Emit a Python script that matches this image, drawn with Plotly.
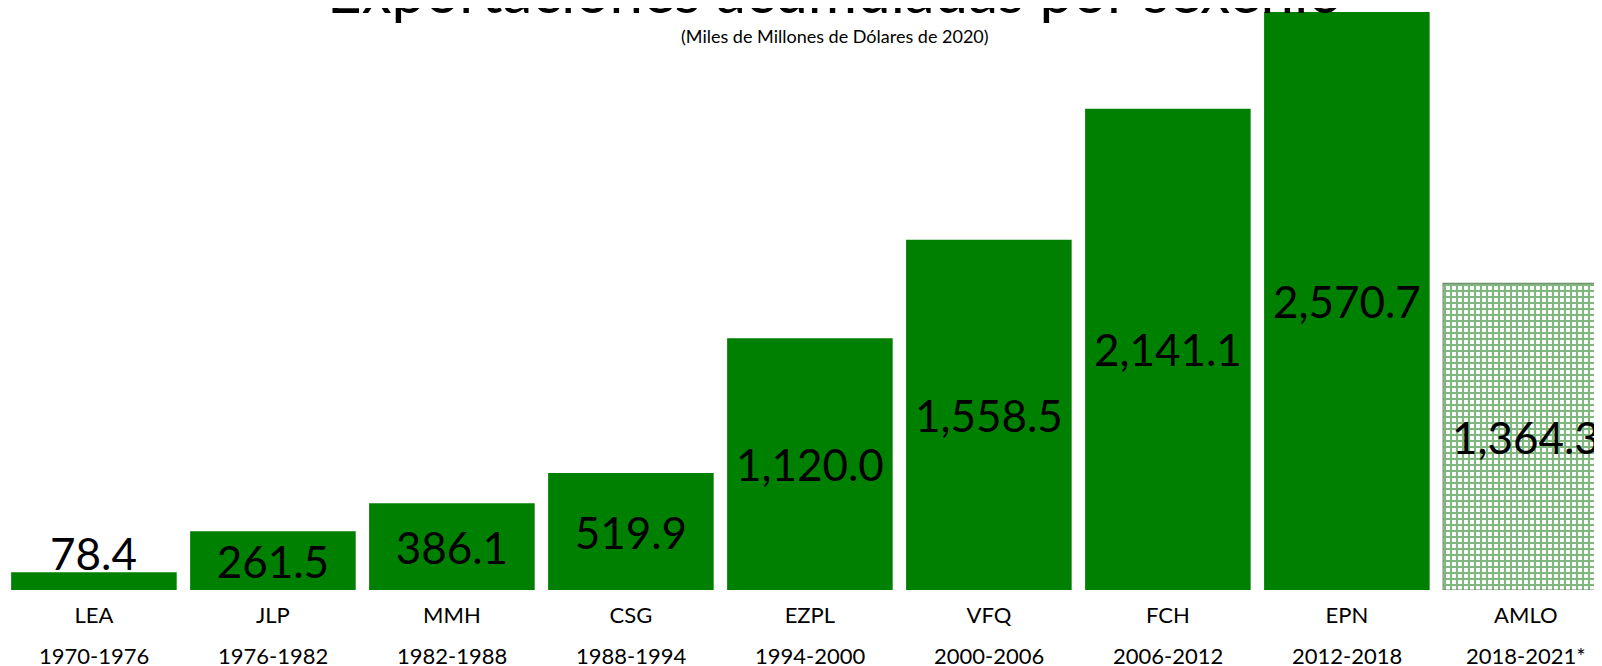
import plotly.graph_objects as go

nombres = ['LEA', 'JLP', 'MMH', 'CSG', 'EZPL', 'VFQ', 'FCH', 'EPN', 'AMLO']
periodos = ['1970-1976', '1976-1982', '1982-1988', '1988-1994', '1994-2000',
            '2000-2006', '2006-2012', '2012-2018', '2018-2021*']
exportaciones = [78.4, 261.5, 386.1, 519.9, 1120.0, 1558.5, 2141.1, 2570.7, 1364.3]

verde = '#008000'
fuente = 'Lato'

n = len(nombres)
etiquetas = [f'{v:,.1f}' for v in exportaciones]
# la primera barra es muy baja: su etiqueta va encima (anotacion aparte)
texto_barras = [''] + etiquetas[1:]
patron = [''] * (n - 1) + ['+']
borde = [0] * (n - 1) + [1.2]

fig = go.Figure()
fig.add_trace(go.Bar(
    x=nombres,
    y=exportaciones,
    marker=dict(color=verde,
                line=dict(color='#6f8f6f', width=borde),
                pattern=dict(shape=patron, fgcolor='#007000', bgcolor='white',
                             size=6, solidity=0.6)),
    text=texto_barras,
    textposition='inside',
    insidetextanchor='middle',
    textangle=0,
    textfont=dict(family=fuente, size=44, color='black'),
    cliponaxis=False,
    showlegend=False,
))

fig.add_annotation(x=nombres[0], y=exportaciones[0], xref='x', yref='y',
                   text=etiquetas[0], showarrow=False, yanchor='bottom',
                   yshift=-9, font=dict(family=fuente, size=44, color='black'))

# segunda linea de etiquetas: periodos
for nom, per in zip(nombres, periodos):
    fig.add_annotation(x=nom, y=0, xref='x', yref='paper', text=per,
                       showarrow=False, yanchor='middle', yshift=-65,
                       font=dict(family=fuente, size=22, color='black'))

fig.add_annotation(x=0.516, y=1, xref='paper', yref='paper',
                   text='Exportaciones acumuladas por sexenio',
                   showarrow=False, yanchor='middle', yshift=22,
                   font=dict(family=fuente, size=60, color='black'))
fig.add_annotation(x=0.516, y=1, xref='paper', yref='paper',
                   text='(Miles de Millones de Dólares de 2020)',
                   showarrow=False, yanchor='middle', yshift=-24,
                   font=dict(family=fuente, size=18, color='black'))

fig.update_layout(
    width=1602, height=666,
    margin=dict(l=0, r=0, t=4, b=84),
    paper_bgcolor='white', plot_bgcolor='white',
    bargap=0.075,
    uniformtext=dict(minsize=44, mode='show'),
    xaxis=dict(range=[-0.48, 8.47], showgrid=False, showline=False,
               zeroline=False, ticks='', ticklabelstandoff=10,
               tickfont=dict(family=fuente, size=22, color='black')),
    yaxis=dict(range=[0, 2571], visible=False),
)

fig.write_html('out.html')
